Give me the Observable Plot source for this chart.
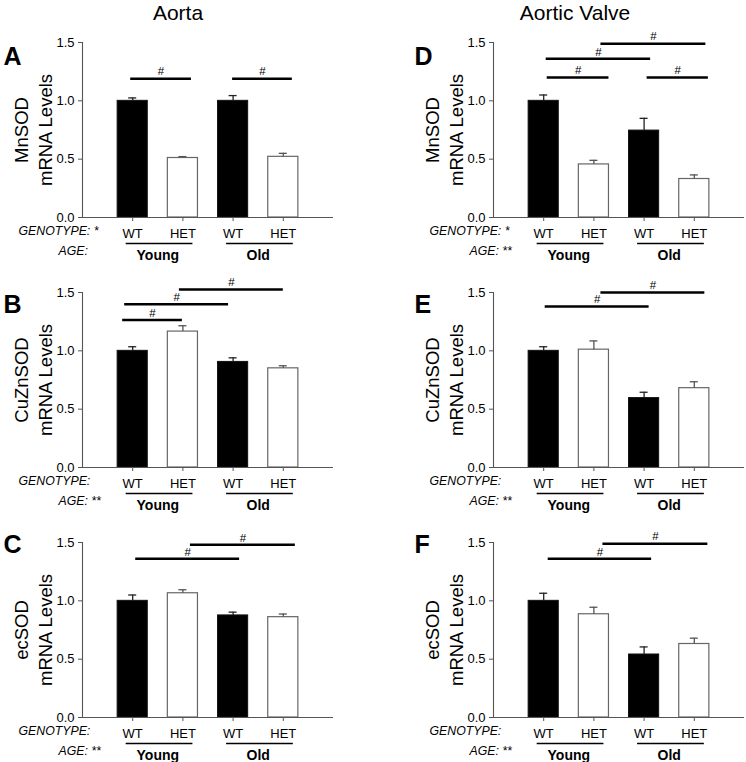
<!DOCTYPE html>
<html>
<head>
<meta charset="utf-8">
<script src="https://cdn.jsdelivr.net/npm/d3@7"></script>
<script src="https://cdn.jsdelivr.net/npm/@observablehq/plot@0.6"></script>
<style>
  html, body { margin: 0; padding: 0; background: white; overflow: hidden; }
  #wrap { position: relative; width: 746px; height: 762px; font-family: "Liberation Sans", Arial, sans-serif; }
  .panel { position: absolute; }
  .title { position: absolute; top: 1px; font-size: 21px; line-height: 1.15; transform: translateX(-50%); white-space: nowrap; color: #000; }
</style>
</head>
<body>
<div id="wrap"></div>
<script>
// ---- data ----
const tissues = ["Aorta", "Aortic Valve"];
const genotypes = ["WT", "HET", "WT", "HET"];
const ages = ["Young", "Young", "Old", "Old"];
const ageGroups = ["Young", "Old"];
const letters = ["A", "B", "C", "D", "E", "F"];
const enzymes = ["MnSOD", "CuZnSOD", "ecSOD", "MnSOD", "CuZnSOD", "ecSOD"];
const genotypeStars = ["*", "", "", "*", "", ""];
const ageStars = ["", "**", "**", "**", "**", "**"];
const yTicks = [0, 0.5, 1.0, 1.5];

const meanA = [1.00, 0.51, 1.00, 0.52];
const errA  = [0.025, 0.012, 0.045, 0.03];
const meanB = [1.00, 1.165, 0.905, 0.85];
const errB  = [0.035, 0.05, 0.035, 0.022];
const meanC = [1.00, 1.065, 0.875, 0.86];
const errC  = [0.05, 0.03, 0.028, 0.027];
const meanD = [1.00, 0.455, 0.745, 0.33];
const errD  = [0.05, 0.035, 0.105, 0.035];
const meanE = [1.00, 1.01, 0.595, 0.68];
const errE  = [0.035, 0.075, 0.05, 0.055];
const meanF = [1.00, 0.885, 0.54, 0.63];
const errF  = [0.065, 0.06, 0.065, 0.05];

// significance brackets: [from, to, level] in group-position units
const sigA = [[0.96, 2.17, 1.19], [2.99, 4.18, 1.19]];
const sigB = [[1.93, 4.00, 1.525], [0.84, 2.91, 1.40], [0.80, 1.99, 1.265]];
const sigC = [[2.15, 4.24, 1.48], [1.06, 3.13, 1.36]];
const sigD = [[2.14, 4.23, 1.49], [1.05, 3.13, 1.36], [1.07, 2.30, 1.20], [3.06, 4.28, 1.20]];
const sigE = [[2.14, 4.21, 1.50], [1.03, 3.10, 1.38]];
const sigF = [[2.18, 4.27, 1.49], [1.09, 3.15, 1.36]];

const means = [meanA, meanB, meanC, meanD, meanE, meanF];
const errs = [errA, errB, errC, errD, errE, errF];
const sigs = [sigA, sigB, sigC, sigD, sigE, sigF];

// ---- drawing ----
const wrap = document.getElementById("wrap");
const axisGray = "#555";
const letterDy = [5, 3, -7];

function panel(k) {
  const col = Math.floor(k / 3), row = k % 3;
  const rows = genotypes.map((g, i) => ({pos: i + 1, genotype: g, age: ages[i], mean: means[k][i], err: errs[k][i]}));
  const wt = rows.filter(d => d.genotype === "WT");
  const het = rows.filter(d => d.genotype === "HET");
  const brackets = sigs[k].map(([a, b, y]) => ({x1: a, x2: b, y}));
  const groups = ageGroups.map(a => {
    const ps = rows.filter(d => d.age === a).map(d => d.pos);
    return {label: a, x1: d3.min(ps) - 0.13, x2: d3.max(ps) + 0.2, xc: (d3.min(ps) + d3.max(ps)) / 2};
  });
  const chart = Plot.plot({
    width: col === 0 ? 373 : 335,
    height: 260,
    marginLeft: 82,
    marginRight: col === 0 ? 40 : 2,
    marginTop: 42,
    marginBottom: 43,
    style: {fontFamily: "'Liberation Sans', Arial, sans-serif", fontSize: "12.5px", background: "transparent", overflow: "visible", color: "#000"},
    x: {domain: [0, 5], axis: null},
    y: {domain: [0, 1.5], axis: null},
    marks: [
      Plot.rect(wt, {x1: d => d.pos - 0.3, x2: d => d.pos + 0.3, y1: 0, y2: "mean", fill: "black", stroke: "#111", strokeWidth: 1}),
      Plot.rect(het, {x1: d => d.pos - 0.3, x2: d => d.pos + 0.3, y1: 0, y2: "mean", fill: "white", stroke: "#666", strokeWidth: 1.2}),
      Plot.ruleX(rows, {x: "pos", y1: "mean", y2: d => d.mean + d.err, stroke: d => d.genotype === "WT" ? "#222" : "#555", strokeWidth: 1.3}),
      Plot.ruleY(rows, {y: d => d.mean + d.err, x1: d => d.pos - 0.08, x2: d => d.pos + 0.08, stroke: d => d.genotype === "WT" ? "#222" : "#555", strokeWidth: 1.3}),
      Plot.ruleX([0], {y1: 0, y2: 1.5, stroke: axisGray, strokeWidth: 1.1}),
      Plot.ruleY([0], {stroke: axisGray, strokeWidth: 1.1}),
      Plot.axisY({ticks: yTicks, tickFormat: d3.format(".1f"), tickSize: 4, tickPadding: 4, label: null, stroke: axisGray, fontSize: 13}),
      Plot.axisX({ticks: [1, 2, 3, 4], tickFormat: i => genotypes[i - 1], tickSize: 4, tickPadding: 7, label: null, stroke: axisGray, fontSize: 13}),
      Plot.ruleY(brackets, {y: "y", x1: "x1", x2: "x2", stroke: "black", strokeWidth: 2.5}),
      Plot.text(brackets, {x: d => (d.x1 + d.x2) / 2, y: "y", text: () => "#", dy: -7, fontSize: 11.5}),
      Plot.ruleY(groups, {y: 0, x1: "x1", x2: "x2", dy: 26, stroke: "black", strokeWidth: 1.5}),
      Plot.text(groups, {x: "xc", y: 0, text: "label", dy: 38, fontWeight: "bold", fontSize: 14}),
      Plot.text(["GENOTYPE: " + genotypeStars[k]], {frameAnchor: "bottom-left", text: d => d, dx: -64, dy: 17, textAnchor: "start", fontStyle: "italic", fontSize: 12.3}),
      Plot.text(["AGE: " + ageStars[k]], {frameAnchor: "bottom-left", text: d => d, dx: -24, dy: 37, textAnchor: "start", fontStyle: "italic", fontSize: 12.3}),
      Plot.text([enzymes[k] + "\nmRNA Levels"], {frameAnchor: "left", text: d => d, rotate: -90, dx: -50, textAnchor: "middle", lineAnchor: "middle", fontSize: 18.5, lineHeight: 1.3}),
      Plot.text([letters[k]], {frameAnchor: "top-left", text: d => d, dx: -79, dy: letterDy[row], textAnchor: "start", fontWeight: "bold", fontSize: 25})
    ]
  });
  chart.classList.add("panel");
  chart.style.left = (col === 0 ? 0 : 411) + "px";
  chart.style.top = (row * 250) + "px";
  wrap.appendChild(chart);
}

for (let k = 0; k < 6; k++) panel(k);

const titleX = [178, 575];
tissues.forEach((t, i) => {
  const d = document.createElement("div");
  d.className = "title";
  d.textContent = t;
  d.style.left = titleX[i] + "px";
  wrap.appendChild(d);
});
</script>
</body>
</html>
